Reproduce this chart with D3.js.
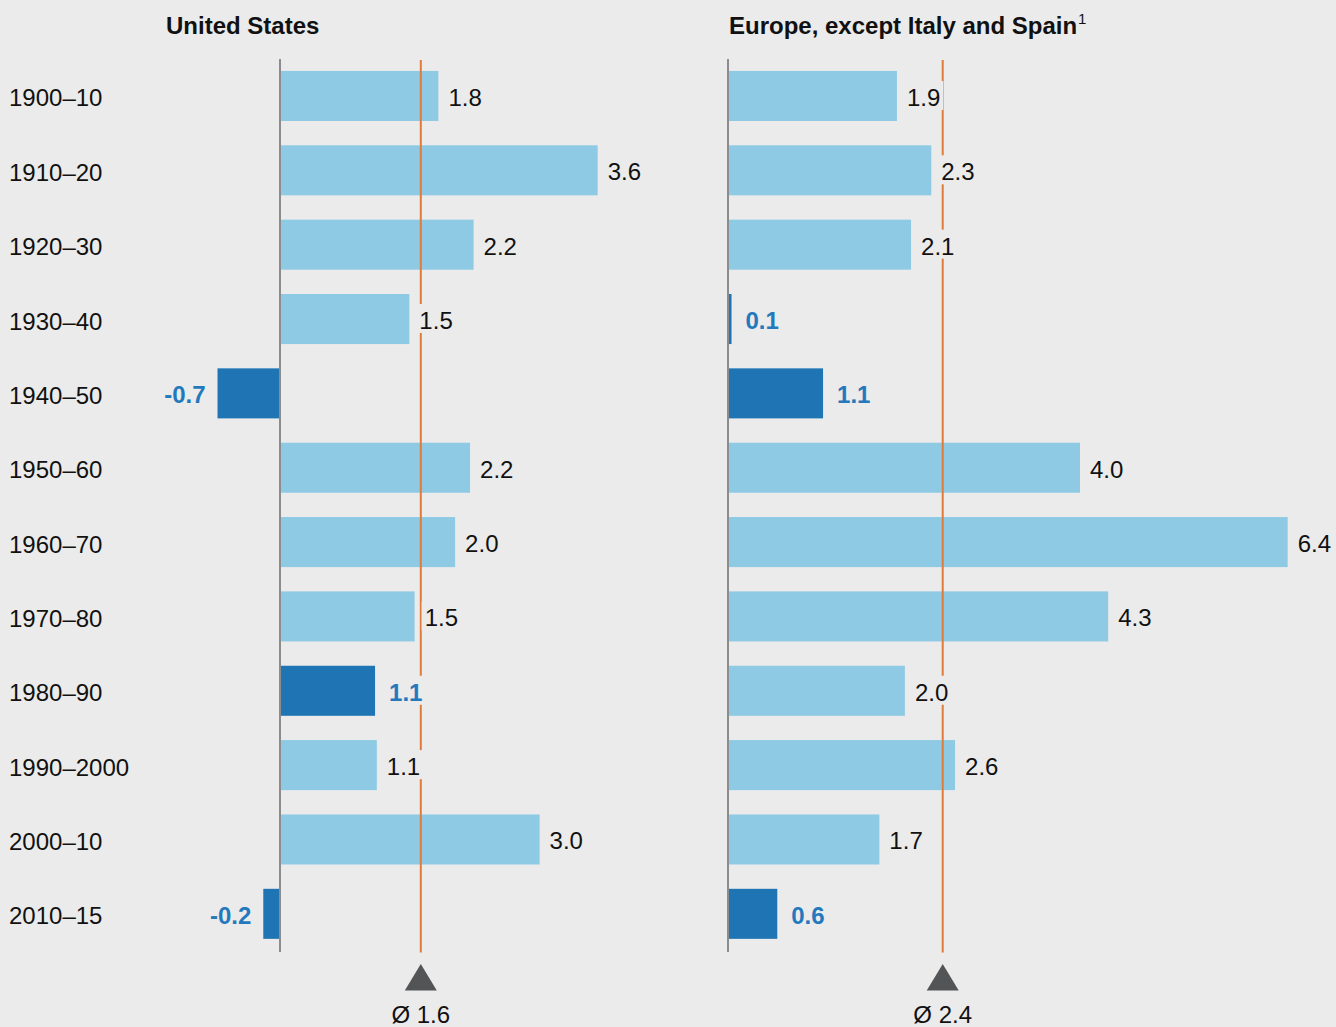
<!DOCTYPE html>
<html>
<head>
<meta charset="utf-8">
<script src="https://cdn.jsdelivr.net/npm/d3@7"></script>
<style>
  html, body { margin: 0; padding: 0; background: #ebebeb; }
  svg { display: block; font-family: "Liberation Sans", Arial, sans-serif; }
</style>
</head>
<body>
<svg id="chart" width="1336" height="1027"></svg>
<script>
// decades on the left
const periods = ["1900–10", "1910–20", "1920–30", "1930–40", "1940–50", "1950–60",
                 "1960–70", "1970–80", "1980–90", "1990–2000", "2000–10", "2010–15"];

// United States (bar lengths, labels as printed)
const usValues = [1.8, 3.61, 2.2, 1.47, -0.71, 2.16, 1.99, 1.53, 1.08, 1.1, 2.95, -0.19];
const usLabels = ["1.8", "3.6", "2.2", "1.5", "-0.7", "2.2", "2.0", "1.5", "1.1", "1.1", "3.0", "-0.2"];
const usDark = ["1940–50", "1980–90", "2010–15"];
const usAvg = 1.6;
const usAvgLabel = "Ø 1.6";

// Europe, except Italy and Spain
const euValues = [1.92, 2.31, 2.08, 0.04, 1.08, 4.0, 6.36, 4.32, 2.01, 2.58, 1.72, 0.56];
const euLabels = ["1.9", "2.3", "2.1", "0.1", "1.1", "4.0", "6.4", "4.3", "2.0", "2.6", "1.7", "0.6"];
const euDark = ["1930–40", "1940–50", "2010–15"];
const euAvg = 2.44;
const euAvgLabel = "Ø 2.4";

const light = "#8ecae4", dark = "#1f74b4", darkText = "#2479bd";
const orange = "#e07b39", axisGrey = "#8c8c8c", bg = "#ebebeb";
const fs = 24;

const svg = d3.select("#chart");

const y = d3.scaleBand()
  .domain(periods)
  .range([58.8, 951])
  .paddingInner(0.327)
  .paddingOuter(0.1635);

// row labels
svg.append("g")
  .selectAll("text")
  .data(periods)
  .join("text")
  .attr("x", 9)
  .attr("y", d => y(d) + y.bandwidth() / 2 + 10.5)
  .attr("font-size", fs)
  .attr("fill", "#111")
  .text(d => d);

function panel(opts){
  const x = d3.scaleLinear().domain(opts.domain).range(opts.range);
  const g = svg.append("g");
  const rows = periods.map((p, i) => ({p: p, v: opts.values[i], label: opts.labels[i], dark: opts.dark.includes(p)}));

  // title
  const t = g.append("text")
    .attr("x", opts.titleX)
    .attr("y", 34)
    .attr("font-size", fs)
    .attr("font-weight", "bold")
    .attr("fill", "#111")
    .text(opts.title);
  if(opts.sup){
    t.append("tspan").attr("font-size", 15).attr("font-weight", "normal").attr("dy", -10).attr("dx", 1).text(opts.sup);
  }

  // bars
  g.append("g")
    .selectAll("rect")
    .data(rows)
    .join("rect")
    .attr("x", d => x(Math.min(0, d.v)))
    .attr("width", d => Math.abs(x(d.v) - x(0)))
    .attr("y", d => y(d.p))
    .attr("height", y.bandwidth())
    .attr("fill", d => d.dark ? dark : light);

  // average line
  g.append("line")
    .attr("x1", x(opts.avg)).attr("x2", x(opts.avg))
    .attr("y1", 60).attr("y2", 952.5)
    .attr("stroke", orange)
    .attr("stroke-width", 2);

  // zero axis
  g.append("line")
    .attr("x1", x(0)).attr("x2", x(0))
    .attr("y1", 59).attr("y2", 952)
    .attr("stroke", axisGrey)
    .attr("stroke-width", 2);

  // value labels, with a background patch that cuts the orange line
  const lab = g.append("g")
    .selectAll("g")
    .data(rows)
    .join("g");

  const txt = lab.append("text")
    .attr("x", d => {
      if(d.v < 0) return x(d.v) - 12;
      return x(d.v) + (d.dark ? 14 : 10);
    })
    .attr("y", d => y(d.p) + y.bandwidth() / 2 + 10)
    .attr("text-anchor", d => d.v < 0 ? "end" : "start")
    .attr("font-size", fs)
    .attr("font-weight", d => d.dark ? "bold" : "normal")
    .attr("fill", d => d.dark ? darkText : "#111")
    .text(d => d.label);

  txt.each(function(d){
    const b = this.getBBox();
    d3.select(this.parentNode).insert("rect", "text")
      .attr("x", b.x - 3)
      .attr("width", b.width + 6)
      .attr("y", y(d.p) + y.bandwidth() / 2 - 15)
      .attr("height", 29)
      .attr("fill", bg);
  });

  // average marker
  const ax = x(opts.avg);
  g.append("path")
    .attr("d", d3.line()([[ax - 16, 990.5], [ax, 964], [ax + 16, 990.5]]) + "Z")
    .attr("fill", "#535456");
  g.append("text")
    .attr("x", ax)
    .attr("y", 1023)
    .attr("text-anchor", "middle")
    .attr("font-size", fs)
    .attr("fill", "#111")
    .text(opts.avgLabel);
}

panel({
  title: "United States", titleX: 166,
  values: usValues, labels: usLabels, dark: usDark,
  avg: usAvg, avgLabel: usAvgLabel,
  domain: [-1, 4], range: [280 - 88, 280 + 4 * 88]
});

panel({
  title: "Europe, except Italy and Spain", sup: "1", titleX: 729,
  values: euValues, labels: euLabels, dark: euDark,
  avg: euAvg, avgLabel: euAvgLabel,
  domain: [0, 6.5], range: [728, 728 + 6.5 * 88]
});
</script>
</body>
</html>
